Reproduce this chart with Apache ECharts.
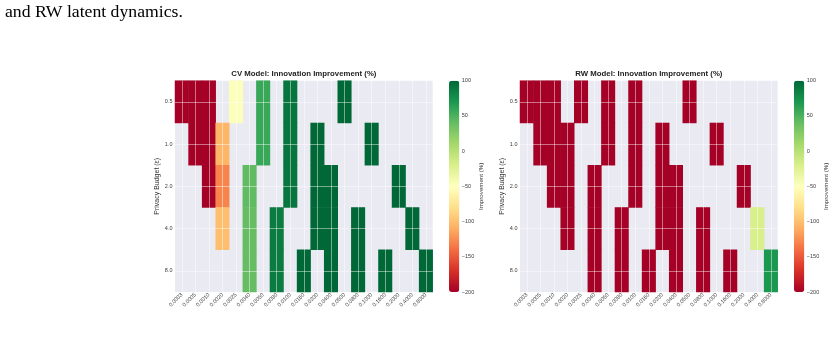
<!DOCTYPE html>
<html lang="en">
<head>
	<meta charset="UTF-8">
	<title>Innovation Improvement heatmaps</title>
	<script src="https://cdn.jsdelivr.net/npm/echarts@6/dist/echarts.min.js"></script>
	<style>
		html, body { margin: 0; padding: 0; background: #fff; }
	</style>
</head>
<body>
	<div id="chart" style="width: 835px;height: 340px;"></div>

	<script type="text/javascript">
		// x 轴: 过程噪声, y 轴: 隐私预算
		var xLabels = ['0.0003', '0.0005', '0.0010', '0.0020', '0.0025', '0.0040', '0.0050', '0.0080', '0.0100', '0.0160',
			'0.0200', '0.0400', '0.0500', '0.0800', '0.1000', '0.1600', '0.2000', '0.4000', '0.8000'];
		var yLabels = ['0.5', '1.0', '2.0', '4.0', '8.0'];
		var cbTicks = [-200, 100, 50]; // min, max, interval

		// CV 模型 (每行一个 epsilon, null = 无数据)
		var cvRow05 = [-200, -200, -200, null, -48, null, 58, null, 92, null, null, null, 100, null, null, null, null, null, null];
		var cvRow10 = [null, -200, -200, -105, null, null, 58, null, 92, null, 100, null, null, null, 100, null, null, null, null];
		var cvRow20 = [null, null, -200, -130, null, 42, null, null, 92, null, 100, 100, null, null, null, null, 100, null, null];
		var cvRow40 = [null, null, null, -100, null, 40, null, 88, null, null, 100, 100, null, 100, null, null, null, 100, null];
		var cvRow80 = [null, null, null, null, null, 40, null, 88, null, 100, null, 100, null, 100, null, 100, null, null, 100];

		// RW 模型
		var rwRow05 = [-200, -200, -200, null, -200, null, -200, null, -200, null, null, null, -200, null, null, null, null, null, null];
		var rwRow10 = [null, -200, -200, -200, null, null, -200, null, -200, null, -200, null, null, null, -200, null, null, null, null];
		var rwRow20 = [null, null, -200, -200, null, -200, null, null, -200, null, -200, -200, null, null, null, null, -200, null, null];
		var rwRow40 = [null, null, null, -200, null, -200, null, -200, null, null, -200, -200, null, -200, null, null, null, -20, null];
		var rwRow80 = [null, null, null, null, null, -200, null, -200, null, -200, null, -200, null, -200, null, -200, null, null, 70];

		var rdYlGn = ['#a50026', '#d73027', '#f46d43', '#fdae61', '#fee08b', '#ffffbf',
			'#d9ef8b', '#a6d96a', '#66bd63', '#1a9850', '#006837'];

		var sans = 'Liberation Sans, Arial, sans-serif';
		var tickColor = '#3a3a3a';
		var plotTop = 80.7, plotW = 257.7, plotH = 211.3;
		var cvLeft = 175, rwLeft = 520, cbGap = 274, cbW = 10.3;

		function toCells(rows) {
			var out = [];
			for (var r = 0; r < rows.length; r++) {
				for (var c = 0; c < rows[r].length; c++) {
					if (rows[r][c] !== null) out.push([c, r, rows[r][c]]);
				}
			}
			return out;
		}

		function heatX(gi) {
			return {
				type: 'category', gridIndex: gi, data: xLabels, z: 5,
				axisLine: { show: false }, axisTick: { show: false },
				axisLabel: { interval: 0, rotate: 45, fontSize: 5.5, margin: 2, color: tickColor, fontFamily: sans },
				splitLine: { show: true, alignWithLabel: true, lineStyle: { color: 'rgba(255,255,255,0.45)', width: 1 } }
			};
		}
		function heatY(gi) {
			return {
				type: 'category', gridIndex: gi, data: yLabels, inverse: true, z: 5,
				name: 'Privacy Budget (ε)', nameLocation: 'middle', nameGap: 12,
				nameTextStyle: { fontSize: 7, color: '#333', fontFamily: sans },
				axisLine: { show: false }, axisTick: { show: false },
				axisLabel: { interval: 0, fontSize: 5.5, margin: 2.5, color: tickColor, fontFamily: sans },
				splitLine: { show: true, alignWithLabel: true, lineStyle: { color: 'rgba(255,255,255,0.45)', width: 1 } }
			};
		}
		function cbX(gi) {
			return { type: 'value', gridIndex: gi, show: false, min: 0, max: 1 };
		}
		function cbY(gi) {
			return {
				type: 'value', gridIndex: gi, position: 'right',
				min: cbTicks[0], max: cbTicks[1], interval: cbTicks[2],
				name: 'Improvement (%)', nameLocation: 'middle', nameGap: 17, nameRotate: 90,
				nameTextStyle: { fontSize: 6.2, color: '#333', fontFamily: sans },
				axisLine: { show: false }, axisTick: { show: false }, splitLine: { show: false },
				axisLabel: { fontSize: 5.5, margin: 2.5, color: tickColor, fontFamily: sans,
					formatter: function (v) { return v < 0 ? '\u2212' + (-v) : '' + v; } }
			};
		}
		function cbMap(si, left) {
			return {
				type: 'continuous', seriesIndex: si, min: cbTicks[0], max: cbTicks[1],
				calculable: false, hoverLink: false, padding: 0,
				left: left, top: plotTop, itemWidth: cbW, itemHeight: plotH,
				inRange: { color: rdYlGn }
			};
		}
		function titleText(left, text) {
			return {
				type: 'text', x: left + plotW / 2, y: plotTop - 6.5,
				style: { text: text, fill: '#222', font: 'bold 7.8px ' + sans, textAlign: 'center', textVerticalAlign: 'middle' }
			};
		}

		var myChart = echarts.init(document.getElementById('chart'), null, { renderer: 'canvas' });
		myChart.setOption({
			animation: false,
			grid: [
				{ left: cvLeft, top: plotTop, width: plotW, height: plotH, show: true, backgroundColor: '#eaeaf2', borderWidth: 0 },
				{ left: rwLeft, top: plotTop, width: plotW, height: plotH, show: true, backgroundColor: '#eaeaf2', borderWidth: 0 },
				{ left: cvLeft + cbGap, top: plotTop, width: cbW, height: plotH },
				{ left: rwLeft + cbGap, top: plotTop, width: cbW, height: plotH }
			],
			xAxis: [heatX(0), heatX(1), cbX(2), cbX(3)],
			yAxis: [heatY(0), heatY(1), cbY(2), cbY(3)],
			visualMap: [cbMap(0, cvLeft + cbGap), cbMap(1, rwLeft + cbGap)],
			series: [
				{ type: 'heatmap', xAxisIndex: 0, yAxisIndex: 0, data: toCells([cvRow05, cvRow10, cvRow20, cvRow40, cvRow80]), z: 2 },
				{ type: 'heatmap', xAxisIndex: 1, yAxisIndex: 1, data: toCells([rwRow05, rwRow10, rwRow20, rwRow40, rwRow80]), z: 2 }
			],
			graphic: [
				titleText(cvLeft, 'CV Model: Innovation Improvement (%)'),
				titleText(rwLeft, 'RW Model: Innovation Improvement (%)'),
				{
					type: 'text', x: 5, y: 12.5,
					style: { text: 'and RW latent dynamics.', fill: '#000', font: '17.7px Liberation Serif, Times New Roman, serif', textVerticalAlign: 'middle' }
				}
			]
		});
	</script>
</body>
</html>
